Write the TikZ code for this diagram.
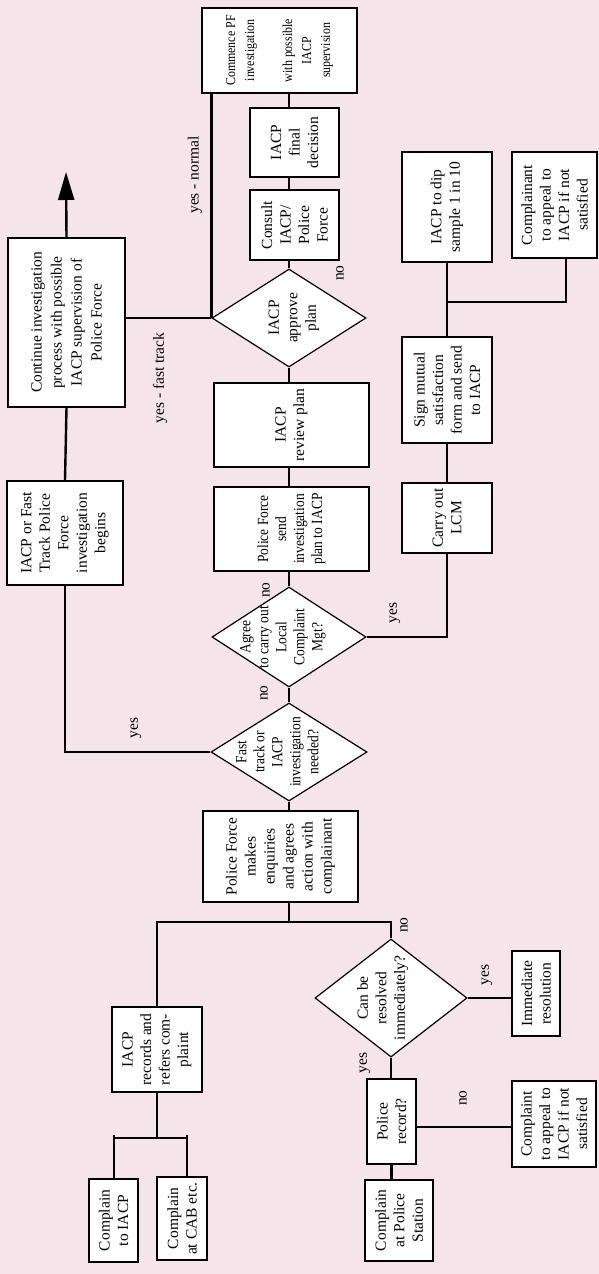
\documentclass[tikz,border=0pt]{standalone}
\usepackage{fontspec}
\setmainfont{Liberation Serif}
\newfontfamily\condfont[FakeStretch=0.87]{Liberation Serif}
\usetikzlibrary{shapes.geometric,arrows.meta}
\definecolor{bgpink}{RGB}{245,228,233}
% centred text of zero size, so a diamond keeps its given size; optional lift
\newcommand{\dtxt}[2][0pt]{\makebox[0pt]{\raisebox{#1}[0pt][0pt]{\raisebox{-.5\height}{\begin{tabular}[b]{@{}c@{}}#2\end{tabular}}}}}
\begin{document}
\begin{tikzpicture}[x=1pt,y=-1pt,
  mainfs/.style={font=\fontsize{15.5}{18.5}\selectfont},
  condfs/.style={font=\condfont\fontsize{15.5}{18}\selectfont},
  smallfs/.style={font=\condfont\fontsize{13.7}{19}\selectfont},
  sz/.style 2 args={minimum height=#1pt, minimum width=#2pt},
  box/.style={draw, fill=white, rotate=90, align=center, inner sep=1pt, line width=1.2pt, mainfs},
  dia/.style={diamond, draw, fill=white, rotate=90, inner sep=0pt, line width=1.2pt, mainfs},
  lbl/.style={rotate=90, inner sep=1pt, mainfs},
  conn/.style={line width=2.4pt}]
\fill[bgpink] (0,0) rectangle (599,1274);
\useasboundingbox (0,0) rectangle (599,1274);

% upper stage: investigation
\node[box, sz={155}{85}, smallfs] (commence) at (279.5,50.5) {Commence PF\\investigation\\[19pt]with possible\\IACP\\supervision};
\node[box, sz={89}{69}] (final) at (294.5,142.5) {IACP\\final\\decision};
\node[box, sz={89}{70}] (consult) at (294.5,225) {Consult\\IACP/\\Police\\Force};
\node[box, sz={117}{169}, font=\fontsize{15.5}{20}\selectfont] (cont) at (66.5,322.5) {Continue investigation\\process with possible\\IACP supervision of\\Police Force};
\node[box, sz={116}{104}] (iacpfast) at (65,533) {IACP or Fast\\Track Police\\Force\\investigation\\begins};
\node[dia, sz={154}{98}] (approve) at (289,318) {\dtxt[-2pt]{IACP\\approve\\plan}};
\node[box, sz={155}{84}] (review) at (291.5,425) {IACP\\review plan};
\node[box, sz={155}{84}, condfs] (pfsend) at (291.5,529) {Police Force\\send\\investigation\\plan to IACP};
\node[dia, sz={154}{100}, condfs] (agree) at (289,637) {\dtxt[9pt]{Agree\\to carry out\\Local\\Complaint\\Mgt?}};
\node[dia, sz={156}{98}, condfs] (fast) at (289,752) {\dtxt[13pt]{Fast\\track or\\IACP\\investigation\\needed?}};
\node[box, sz={155}{91}, font=\fontsize{15.5}{19}\selectfont] (pfmake) at (280.5,856.5) {Police Force\\makes\\enquiries\\and agrees\\action with\\complainant};

% local complaint management
\node[box, sz={90}{70}] (lcm) at (447,518) {Carry out\\LCM};
\node[box, sz={90}{106}] (sign) at (447,390) {Sign mutual\\satisfaction\\form and send\\to IACP};
\node[box, sz={90}{110}] (dip) at (447,207) {IACP to dip\\sample 1 in 10};
\node[box, sz={85}{106}] (appeal1) at (554.5,205) {Complainant\\to appeal to\\IACP if not\\satisfied};

% lower stage: making the complaint
\node[box, sz={90}{85}] (records) at (157,1049.5) {IACP\\records and\\refers com-\\plaint};
\node[box, sz={49}{83}] (c2iacp) at (113.5,1220.5) {Complain\\to IACP};
\node[box, sz={50}{83}] (ccab) at (182,1218.5) {Complain\\at CAB etc.};
\node[dia, sz={152}{118}] (canres) at (391,998) {\dtxt[11pt]{Can be\\resolved\\immediately?}};
\node[box, sz={48}{85}] (immed) at (536,993.5) {Immediate\\resolution};
\node[box, sz={49}{85}] (polrec) at (391.5,1121.5) {Police\\record?};
\node[box, sz={84}{86}] (appeal2) at (554,1124) {Complaint\\to appeal to\\IACP if not\\satisfied};
\node[box, sz={68}{81}] (cps) at (399,1220.5) {Complain\\at Police\\Station};

% connectors along the main spine
\draw[conn] (approve.east) -- (approve.east |- consult.west);
\draw[conn] (approve.east |- consult.east) -- (approve.east |- final.west);
\draw[conn] (approve.east |- final.east) -- (approve.east |- commence.west);
\draw[conn] (approve.west) -- (approve.west |- review.east);
\draw[conn] (agree.east |- pfsend.east) -- (agree.east |- review.west);
\draw[conn] (agree.east) -- (agree.east |- pfsend.west);
\draw[conn] (fast.east) -- (agree.west);
\draw[conn] (fast.west) -- (fast.west |- pfmake.east);
\coordinate (split) at (289,922);
\draw[conn] (fast.west |- pfmake.west) -- (split);
\draw[conn] (records.east) |- (split) -| (canres.east);

% fast track / normal branches
\coordinate (arrowend) at (66,172);
\draw[conn] (fast.north) -| (iacpfast.west);
\draw[conn] (iacpfast.east) -- (cont.west);
\draw[conn, -{Triangle[length=28pt,width=16pt]}] (cont.east) -- (arrowend);
\draw[conn] (approve.north) -- (approve.north -| cont.south);
\draw[conn] (approve.north) -- (approve.north |- commence.west);

% local complaint management branch
\draw[conn] (agree.south) -| (lcm.west);
\draw[conn] (lcm.east) -- (sign.west);
\draw[conn] (sign.east) -- (dip.west);
\coordinate (dipsplit) at (447,302);
\coordinate (appealturn) at (566,302);
\draw[conn] (dipsplit) -- (appealturn) -- (appealturn |- appeal1.west);

% complaint entry points
\coordinate (recsplit) at (156,1138);
\coordinate (tickA) at (114,1135);
\coordinate (tickB) at (187,1135);
\draw[conn] (records.west) -- (records.west |- recsplit);
\draw[conn] (tickA |- recsplit) -- (tickB |- recsplit);
\draw[conn] (tickA) -- (tickA |- c2iacp.east);
\draw[conn] (tickB) -- (tickB |- ccab.east);
\draw[conn] (canres.south) -- (canres.south -| immed.north);
\draw[conn] (canres.west) -- (canres.west |- polrec.east);
\draw[conn] ([yshift=-5.5pt]polrec.south) -- ([yshift=-5.5pt]polrec.south -| appeal2.north);
\draw[conn] (polrec.west) -- (polrec.west |- cps.east);

% branch labels
\node[lbl] (lyesfast) at (136,728) {yes};
\node[lbl] (lnofast) at (264,693) {no};
\node[lbl] (lnoagree) at (266,590) {no};
\node[lbl] (lyesagree) at (395,613) {yes};
\node[lbl] (lnoapprove) at (340,273) {no};
\node[lbl] (lyesnormal) at (195,175) {yes - normal};
\node[lbl] (lyesft) at (160,378) {yes - fast track};
\node[lbl] (lnocan) at (404,925) {no};
\node[lbl] (lyescan) at (487,975) {yes};
\node[lbl] (lyescanb) at (365,1063) {yes};
\node[lbl] (lnopol) at (463,1098) {no};
\end{tikzpicture}
\end{document}
